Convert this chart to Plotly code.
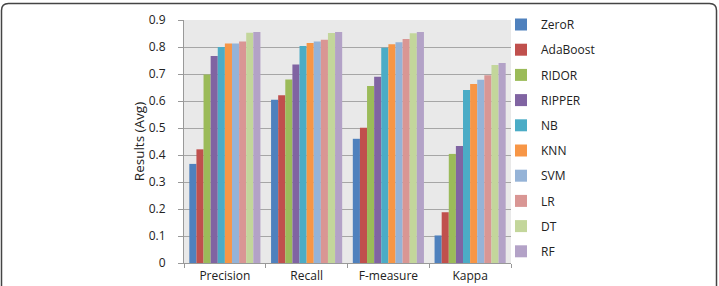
import plotly.graph_objects as go

categories = ["Precision", "Recall", "F-measure", "Kappa"]
models = ["ZeroR", "AdaBoost", "RIDOR", "RIPPER", "NB", "KNN", "SVM", "LR", "DT", "RF"]

zeror = [0.367, 0.605, 0.460, 0.102]
adaboost = [0.421, 0.621, 0.501, 0.188]
ridor = [0.698, 0.680, 0.656, 0.404]
ripper = [0.767, 0.735, 0.690, 0.433]
nb = [0.800, 0.804, 0.797, 0.641]
knn = [0.813, 0.815, 0.810, 0.663]
svm = [0.813, 0.820, 0.818, 0.679]
lr = [0.820, 0.827, 0.830, 0.695]
dt = [0.853, 0.852, 0.851, 0.733]
rf = [0.856, 0.856, 0.856, 0.741]

series = [zeror, adaboost, ridor, ripper, nb, knn, svm, lr, dt, rf]
colors = ["#4F81BD", "#C0504D", "#9BBB59", "#8064A2", "#4BACC6",
          "#F79646", "#95B3D7", "#D99694", "#C3D69B", "#B3A2C7"]
y_ticks = [0, 0.1, 0.2, 0.3, 0.4, 0.5, 0.6, 0.7, 0.8, 0.9]

W, H = 719, 286
L, R, T, B = 184, 511, 20, 263

fig = go.Figure()
for name, vals, col in zip(models, series, colors):
    fig.add_trace(go.Bar(
        x=categories, y=vals, name=name, legendgroup=name,
        marker=dict(color=col, line=dict(color=col, width=0)),
    ))

def px(xp):
    return (xp - L) / (R - L)

def py(yp):
    return (B - yp) / (B - T)

# rounded frame around the figure
rr = 7
x0, x1 = 1.5, 716.5
y0, ybot = 3.5, 300
path = (f"M {px(x0)},{py(ybot)} L {px(x0)},{py(y0+rr)} "
        f"Q {px(x0)},{py(y0)} {px(x0+rr)},{py(y0)} "
        f"L {px(x1-rr)},{py(y0)} Q {px(x1)},{py(y0)} {px(x1)},{py(y0+rr)} "
        f"L {px(x1)},{py(ybot)}")
fig.add_shape(type="path", xref="paper", yref="paper", path=path,
              line=dict(color="#444444", width=1.5), layer="below")

font = "Open Sans, Liberation Sans, sans-serif"
fig.update_layout(
    width=W, height=H,
    margin=dict(l=L, r=W - R, t=T, b=H - B, pad=0, autoexpand=False),
    paper_bgcolor="white",
    plot_bgcolor="#E9E9E9",
    barmode="group",
    bargap=0.13,
    bargroupgap=0,
    font=dict(family=font, size=12, color="#222222"),
    showlegend=True,
    legend=dict(
        x=px(501), y=py(10), xanchor="left", yanchor="top",
        font=dict(family=font, size=12, color="#222222"),
        tracegroupgap=6.2, bgcolor="rgba(0,0,0,0)",
        itemclick=False, maxheight=400,
    ),
    xaxis=dict(
        type="category", tickson="boundaries", ticks="outside", ticklen=4,
        tickcolor="#999999", showline=True, linecolor="#999999", linewidth=1,
        showgrid=False, tickfont=dict(size=12), ticklabelstandoff=2,
        automargin=False,
    ),
    yaxis=dict(
        range=[0, 0.9], tickvals=y_ticks, ticktext=[f"{v:g}" for v in y_ticks],
        ticks="outside", ticklen=5, tickcolor="#999999",
        showline=True, linecolor="#999999", linewidth=1,
        showgrid=True, gridcolor="#A6A6A6", gridwidth=1,
        tickfont=dict(size=12), ticklabelstandoff=10,
        title=dict(text="Results (Avg)", font=dict(size=13.5), standoff=0),
        zeroline=False, automargin=False,
    ),
)

fig.write_html("out.html")
